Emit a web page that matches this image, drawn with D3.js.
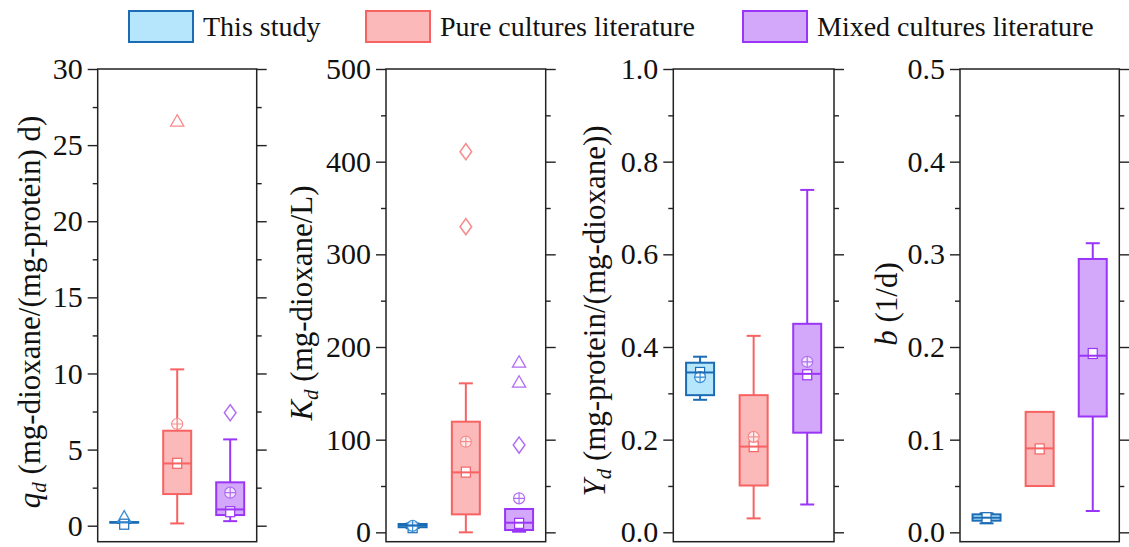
<!DOCTYPE html>
<html>
<head>
<meta charset="utf-8">
<script src="https://d3js.org/d3.v7.min.js"></script>
<style>
  body { margin: 0; background: #fff; }
  svg text, svg tspan { font-family: "Liberation Serif", "Times New Roman", serif; fill: #111; }
</style>
</head>
<body>
<div id="chart"></div>
<script>
// groups shown in every panel
var groups = ["This study", "Pure cultures literature", "Mixed cultures literature"];

// box stats per group: [whisker low, Q1, median, Q3, whisker high]
var qdBox = [[0.18, 0.2, 0.22, 0.24, 0.26], [0.15, 2.08, 4.09, 6.24, 10.27], [0.3, 0.7, 1.07, 2.85, 5.67]];
var qdMean = [0.1, 4.1, 0.92];
var qdPlus = [null, 6.68, 2.17];
var qdOutliers = [[0, 0.49, "tri"], [1, 26.5, "tri"], [2, 7.42, "dia"]];

var kdBox = [[4.5, 5.5, 7.5, 9, 9.5], [0, 19.4, 64.7, 119.4, 160.8], [0.7, 2.5, 10.4, 25.2, 25.2]];
var kdMean = [5, 65, 9.7];
var kdPlus = [7, 97.8, 36.7];
var kdOutliers = [[1, 410.8, "dia"], [1, 329.9, "dia"], [2, 94.2, "dia"], [2, 182.4, "tri"], [2, 160.8, "tri"]];

var ydBox = [[0.286, 0.296, 0.345, 0.366, 0.379], [0.030, 0.101, 0.185, 0.296, 0.424], [0.060, 0.215, 0.342, 0.450, 0.739]];
var ydMean = [0.345, 0.185, 0.34];
var ydPlus = [0.335, 0.206, 0.368];
var ydOutliers = [];

var bBox = [[0.0097, 0.0126, 0.0158, 0.0194, 0.0205], [0.05, 0.05, 0.0906, 0.13, 0.13], [0.023, 0.125, 0.1906, 0.295, 0.312]];
var bMean = [0.0158, 0.09, 0.193];
var bPlus = [null, null, null];
var bOutliers = [];

// axis ticks
var qdTicks = [0, 5, 10, 15, 20, 25, 30];
var kdTicks = [0, 100, 200, 300, 400, 500];
var ydTicks = [0.0, 0.2, 0.4, 0.6, 0.8, 1.0];
var bTicks = [0.0, 0.1, 0.2, 0.3, 0.4, 0.5];

var strokeColors = ["#1b6cb5", "#f76262", "#9a35f7"];
var fillColors = ["#b6e6fb", "#fbb9b9", "#d3a7fa"];
var markColors = ["#3b8fd8", "#f88c8c", "#b06ef2"];

var serif = "'Liberation Serif', 'Times New Roman', serif";

var svgWidth = 1129;
var svgHeight = 547;

var svg = d3.select("#chart")
  .append("svg")
  .attr("width", svgWidth)
  .attr("height", svgHeight)
  .style("font-family", serif);

var plotTop = 69, plotBottom = 541.7;

var panels = [
  { x0: 97.7, x1: 256.7, domain: [-1.05, 30], ticks: qdTicks, minorStep: 2.5, fmt: d3.format("d"),
    box: qdBox, mean: qdMean, plus: qdPlus, outliers: qdOutliers,
    title: ["q", "d", " (mg-dioxane/(mg-protein) d)"], titleX: 40, titleY: 312 },
  { x0: 386, x1: 545.7, domain: [-10.1, 500], ticks: kdTicks, minorStep: 50, fmt: d3.format("d"),
    box: kdBox, mean: kdMean, plus: kdPlus, outliers: kdOutliers,
    title: ["K", "d", " (mg-dioxane/L)"], titleX: 312, titleY: 303 },
  { x0: 673.3, x1: 834, domain: [-0.0203, 1.0], ticks: ydTicks, minorStep: 0.1, fmt: d3.format(".1f"),
    box: ydBox, mean: ydMean, plus: ydPlus, outliers: ydOutliers,
    title: ["Y", "d", " (mg-protein/(mg-dioxane))"], titleX: 605, titleY: 311 },
  { x0: 960, x1: 1119.3, domain: [-0.0101, 0.5], ticks: bTicks, minorStep: 0.05, fmt: d3.format(".1f"),
    box: bBox, mean: bMean, plus: bPlus, outliers: bOutliers,
    title: ["b", "", " (1/d)"], titleX: 897, titleY: 304 }
];

panels.forEach(function(p) {
  var x = d3.scaleLinear().domain([0.5, 3.5]).range([p.x0, p.x1]);
  var y = d3.scaleLinear().domain(p.domain).range([plotBottom, plotTop]);
  var g = svg.append("g");

  // minor ticks
  var minor = d3.range(p.ticks[0], p.ticks[p.ticks.length - 1] + 1e-9, p.minorStep)
    .filter(function(v) { return p.ticks.every(function(t) { return Math.abs(t - v) > 1e-9; }); });

  var leftAxis = d3.axisLeft(y).tickValues(p.ticks).tickFormat(p.fmt).tickSize(10).tickPadding(5);
  var rightAxis = d3.axisRight(y).tickValues(p.ticks).tickFormat("").tickSize(10);
  var leftMinor = d3.axisLeft(y).tickValues(minor).tickFormat("").tickSize(5);
  var rightMinor = d3.axisRight(y).tickValues(minor).tickFormat("").tickSize(5);

  [[leftAxis, p.x0], [leftMinor, p.x0], [rightAxis, p.x1], [rightMinor, p.x1]].forEach(function(a) {
    var ag = g.append("g").attr("transform", `translate(${a[1]},0)`).call(a[0]);
    ag.attr("font-family", null).attr("font-size", null);
    ag.select(".domain").remove();
    ag.selectAll("line").attr("stroke", "#222").attr("stroke-width", 1.4);
    ag.selectAll("text")
      .style("font-family", serif)
      .style("font-size", "30px")
      .attr("fill", "#111");
  });

  // frame
  g.append("rect")
    .attr("x", p.x0).attr("y", plotTop)
    .attr("width", p.x1 - p.x0).attr("height", plotBottom - plotTop)
    .attr("fill", "none").attr("stroke", "#222").attr("stroke-width", 1.5);

  // axis title
  var t = g.append("text")
    .attr("transform", `translate(${p.titleX},${p.titleY}) rotate(-90)`)
    .attr("text-anchor", "middle")
    .style("font-family", serif)
    .style("font-size", "31px");
  t.append("tspan").style("font-style", "italic").text(p.title[0]);
  if (p.title[1]) {
    t.append("tspan").style("font-style", "italic").style("font-size", "21px").attr("dy", 6).text(p.title[1]);
    t.append("tspan").attr("dy", -6).text(p.title[2]);
  } else {
    t.append("tspan").text(p.title[2]);
  }

  var bw = 28, cap = 14;

  p.box.forEach(function(s, i) {
    var cx = x(i + 1);
    var c = strokeColors[i];
    var bg = g.append("g");

    // whiskers
    if (s[4] > s[3]) {
      bg.append("line").attr("x1", cx).attr("x2", cx).attr("y1", y(s[3])).attr("y2", y(s[4]))
        .attr("stroke", c).attr("stroke-width", 2);
      bg.append("line").attr("x1", cx - cap / 2).attr("x2", cx + cap / 2).attr("y1", y(s[4])).attr("y2", y(s[4]))
        .attr("stroke", c).attr("stroke-width", 2);
    }
    if (s[0] < s[1]) {
      bg.append("line").attr("x1", cx).attr("x2", cx).attr("y1", y(s[1])).attr("y2", y(s[0]))
        .attr("stroke", c).attr("stroke-width", 2);
      bg.append("line").attr("x1", cx - cap / 2).attr("x2", cx + cap / 2).attr("y1", y(s[0])).attr("y2", y(s[0]))
        .attr("stroke", c).attr("stroke-width", 2);
    }

    // box
    bg.append("rect")
      .attr("x", cx - bw / 2).attr("y", y(s[3]))
      .attr("width", bw).attr("height", Math.max(0.5, y(s[1]) - y(s[3])))
      .attr("fill", fillColors[i]).attr("stroke", c).attr("stroke-width", 2);

    // mean square
    bg.append("rect")
      .attr("x", cx - 4.5).attr("y", y(p.mean[i]) - 5)
      .attr("width", 9).attr("height", 10)
      .attr("fill", "#fff").attr("stroke", c).attr("stroke-width", 1.2);

    // circled plus marker
    if (p.plus[i] != null) {
      var py = y(p.plus[i]);
      bg.append("circle").attr("cx", cx).attr("cy", py).attr("r", 5.5)
        .attr("fill", "#fff").attr("fill-opacity", 0.7).attr("stroke", markColors[i]).attr("stroke-width", 1.2);
      bg.append("path").attr("d", `M${cx - 5.5},${py}H${cx + 5.5}M${cx},${py - 5.5}V${py + 5.5}`)
        .attr("stroke", markColors[i]).attr("stroke-width", 1.2);
    }

    // median
    bg.append("line")
      .attr("x1", cx - bw / 2).attr("x2", cx + bw / 2)
      .attr("y1", y(s[2])).attr("y2", y(s[2]))
      .attr("stroke", c).attr("stroke-width", 2);
  });

  // outliers
  p.outliers.forEach(function(o) {
    var cx = x(o[0] + 1), cy = y(o[1]);
    var sym = o[2] === "tri"
      ? d3.symbol().type(d3.symbolTriangle).size(75)
      : d3.symbol().type(d3.symbolDiamond).size(75);
    g.append("path")
      .attr("transform", `translate(${cx},${cy})` + (o[2] === "dia" ? " scale(1.25,1)" : ""))
      .attr("d", sym())
      .attr("fill", "none")
      .attr("stroke", markColors[o[0]])
      .attr("stroke-width", 1.3);
  });
});

// legend
var legendX = [129, 366, 743];
var legend = svg.append("g");
groups.forEach(function(name, i) {
  legend.append("rect")
    .attr("x", legendX[i]).attr("y", 11)
    .attr("width", 64).attr("height", 31)
    .attr("fill", fillColors[i]).attr("stroke", strokeColors[i]).attr("stroke-width", 2);
  legend.append("text")
    .attr("x", legendX[i] + 74).attr("y", 36)
    .style("font-size", "28px")
    .text(name);
});
</script>
</body>
</html>
